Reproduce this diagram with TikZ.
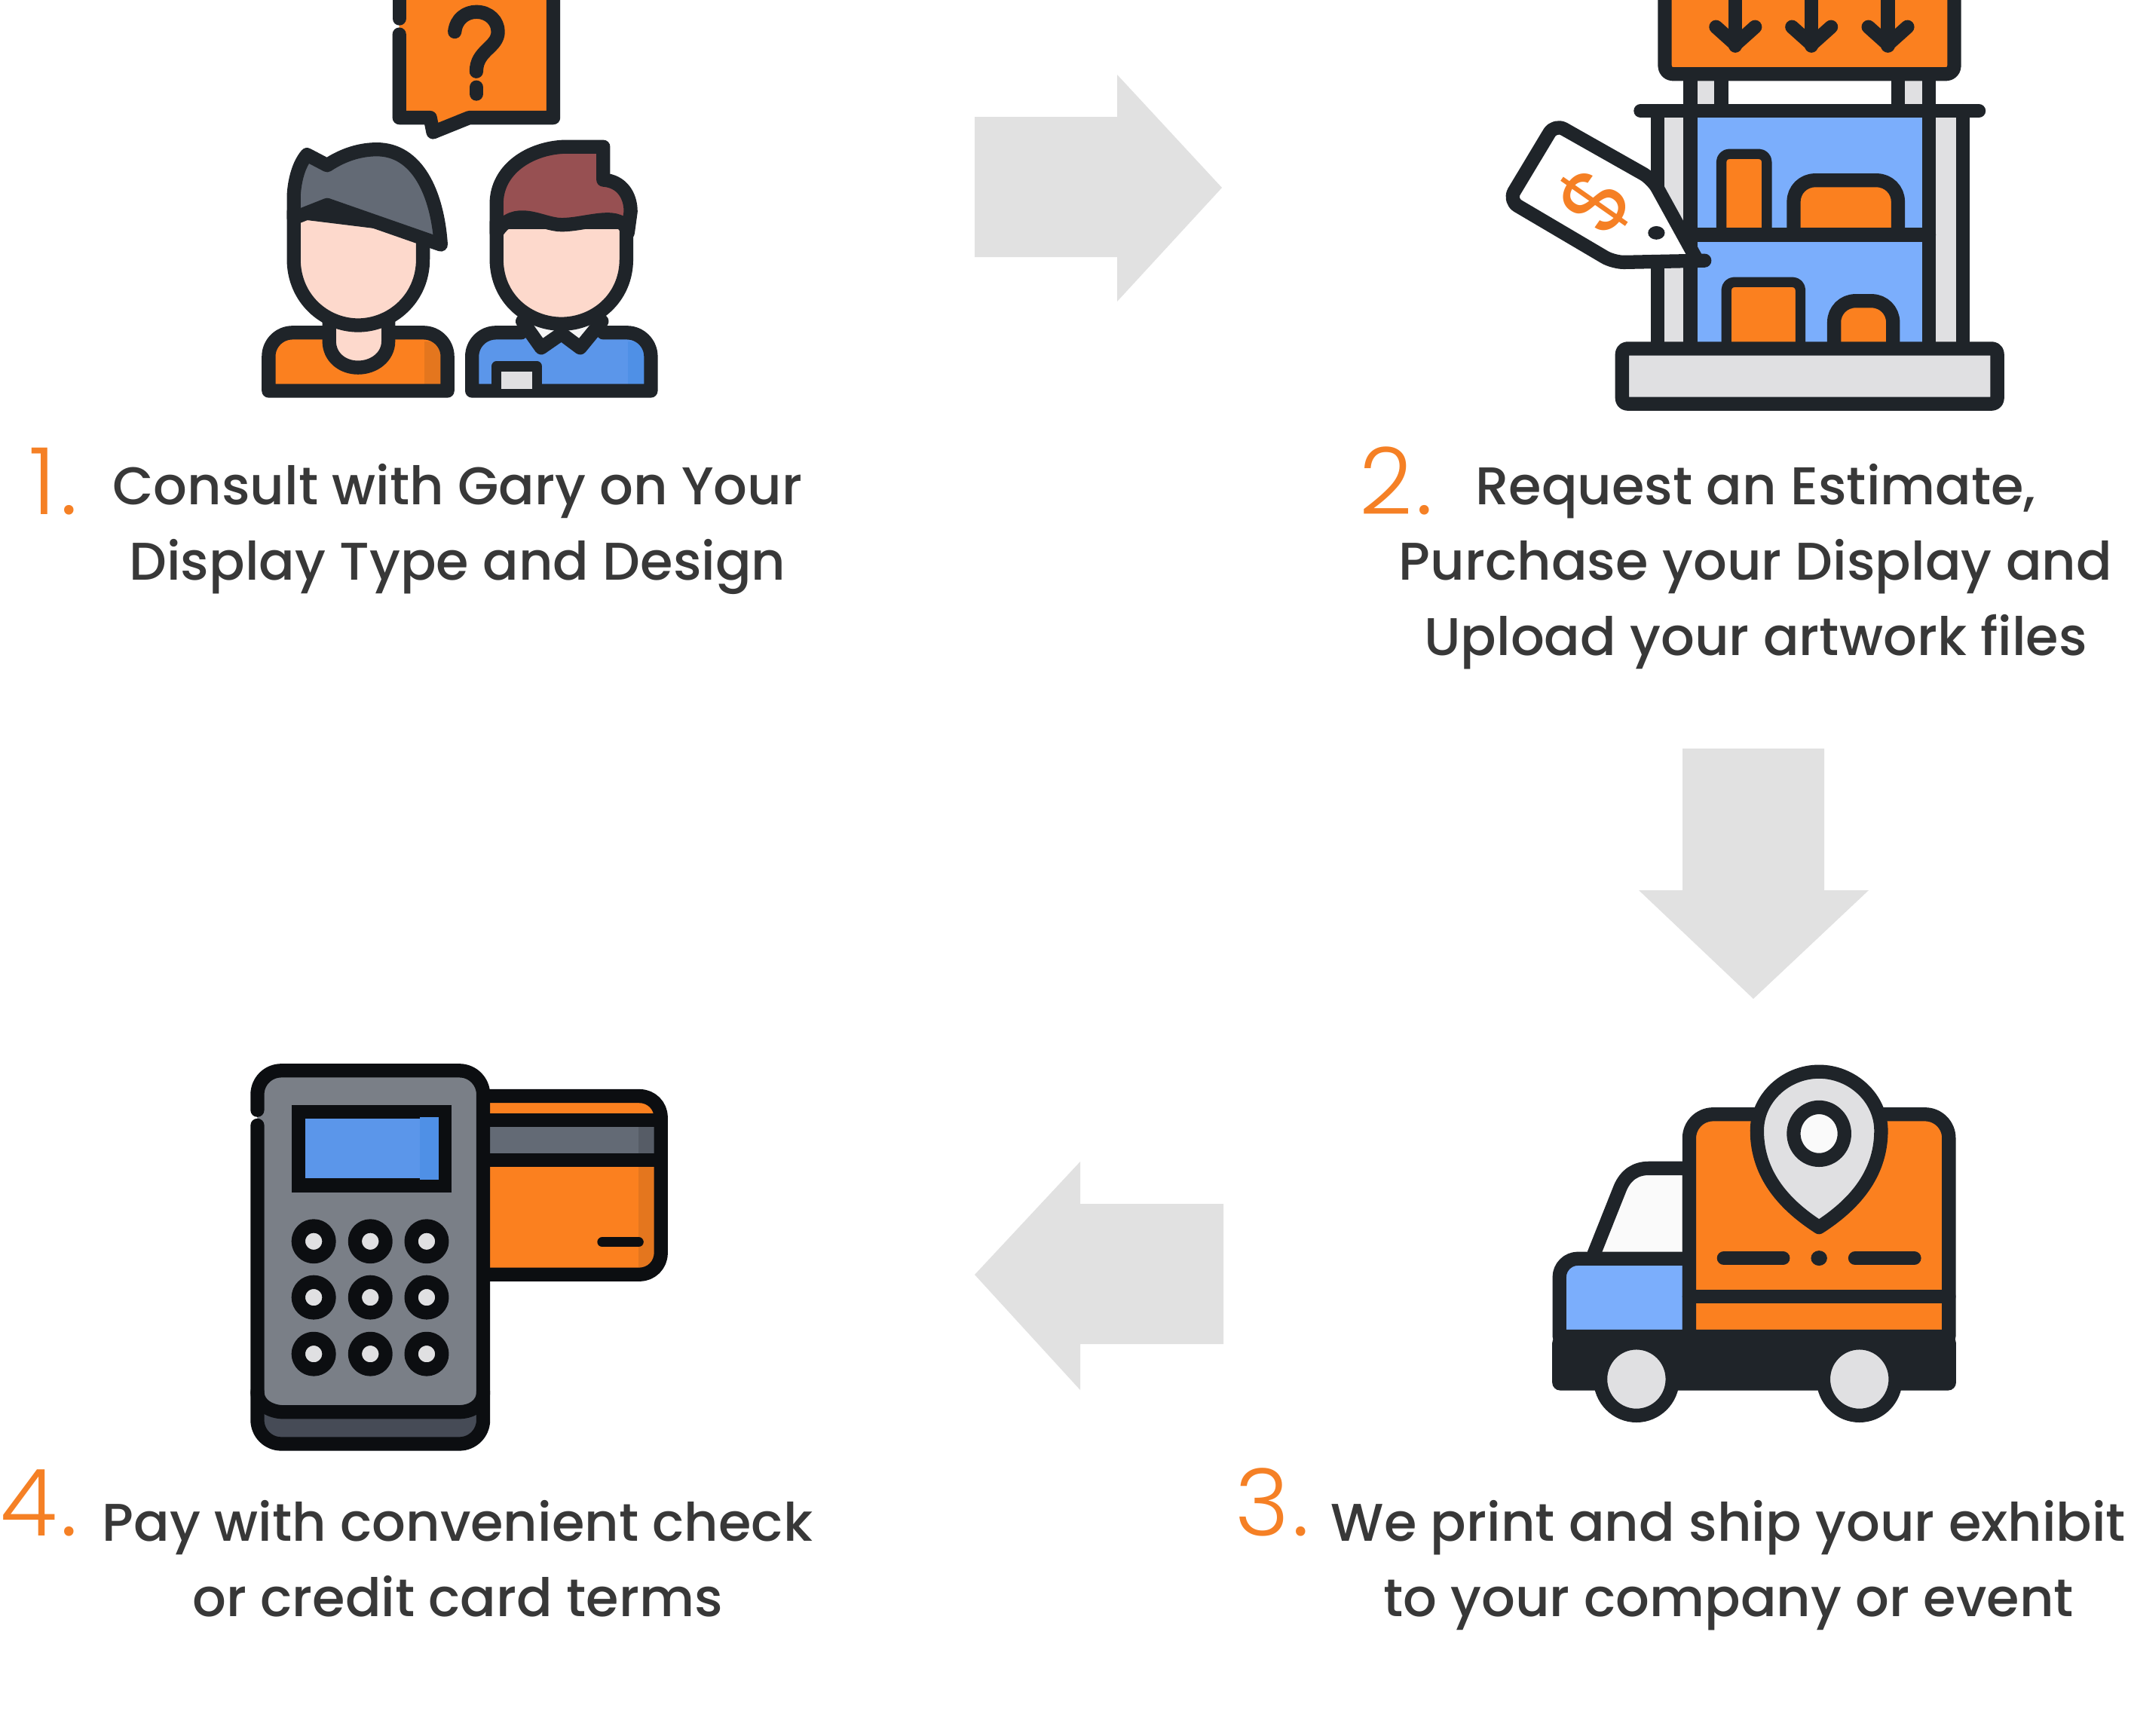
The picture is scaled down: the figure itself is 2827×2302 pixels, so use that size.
\documentclass[tikz,border=0pt]{standalone}
\usepackage{fontspec}
\setmainfont{Poppins Medium}
\newfontfamily\numfont{Poppins Light}
\newfontfamily\tagfont{Poppins}
\definecolor{inkc}{HTML}{1F2429}
\definecolor{inkb}{HTML}{0C0E11}
\definecolor{org}{HTML}{FB801F}
\definecolor{orgd}{HTML}{E4761E}
\definecolor{numorg}{HTML}{F58025}
\definecolor{skin}{HTML}{FDD9CC}
\definecolor{hairg}{HTML}{636A75}
\definecolor{hairgd}{HTML}{565C66}
\definecolor{hairr}{HTML}{975052}
\definecolor{blu}{HTML}{5B96EA}
\definecolor{blud}{HTML}{4F90E6}
\definecolor{lblu}{HTML}{7BAEFC}
\definecolor{lgray}{HTML}{E0E0E2}
\definecolor{arrowc}{HTML}{E1E1E1}
\definecolor{txtc}{HTML}{383838}
\definecolor{term}{HTML}{7A7F87}
\definecolor{termd}{HTML}{464B56}
\tikzset{
  ink/.style={draw=inkc,line width=5.2pt,line join=round,line cap=round},
  thinink/.style={draw=inkc,line width=3.8pt,line join=round,line cap=round},
  inkk/.style={draw=inkb,line width=5.2pt,line join=round,line cap=round},
  blockarrow/.style={fill=arrowc,draw=none},
  stepnum/.style={text=numorg,font=\numfont\fontsize{35}{35}\selectfont,inner sep=0pt,anchor=base west},
  steptext/.style={text=txtc,font=\fontsize{20}{28.45}\selectfont,align=center,inner sep=0pt,anchor=north}
}
\begin{document}
\begin{tikzpicture}[x=0.01cm,y=-0.01cm]
\useasboundingbox (0,0) rectangle (2827,2302);
\fill[white] (0,0) rectangle (2827,2302);
\begin{scope}
\clip (0,0) rectangle (2827,2302);

% ---------- block arrows
\fill[blockarrow] (1293,155) -- (1482,155) -- (1482,99) -- (1621,249) -- (1482,400) -- (1482,341) -- (1293,341) -- cycle;
\fill[blockarrow] (2232,993) -- (2420,993) -- (2420,1181) -- (2479,1181) -- (2326,1325) -- (2174,1181) -- (2232,1181) -- cycle;
\fill[blockarrow] (1623,1597) -- (1433,1597) -- (1433,1541) -- (1293,1691) -- (1433,1844) -- (1433,1783) -- (1623,1783) -- cycle;

% ---------- icon 1: two people and a question
\begin{scope}[shift={(320,0)},xscale=0.3827,yscale=0.3508]
 \fill[org] (548,-60) -- (1082,-60) -- (1082,445) -- (790,445) -- (665,500) -- (655,445) -- (548,445) -- cycle;
 \draw[ink] (548,130) -- (548,445) -- (655,445) -- (665,500) -- (790,445) -- (1082,445) -- (1082,-60);
 \draw[ink] (548,-60) -- (548,70);
 \draw[ink] (740,120) .. controls (745,70) and (780,45) .. (815,45) .. controls (860,45) and (890,80) .. (890,120) .. controls (890,180) and (815,190) .. (815,270);
 \draw[ink] (815,330) -- (815,355);
 % person 1
 \fill[org] (95,1478) [rounded corners=9pt] -- (95,1258) -- (715,1258) [sharp corners] -- (715,1478) -- cycle;
 \fill[orgd] (635,1290) rectangle (697,1478);
 \draw[ink] (300,1258) [rounded corners=9pt] -- (95,1258) [sharp corners] -- (95,1478) -- (715,1478) [rounded corners=9pt] -- (715,1258) [sharp corners] -- (510,1258);
 \draw[ink,fill=skin] (305,1215) -- (305,1290) .. controls (305,1350) and (350,1390) .. (405,1390) .. controls (460,1390) and (510,1350) .. (510,1290) -- (510,1215);
 \draw[ink,fill=skin] (182,800) -- (182,980) .. controls (182,1130) and (290,1230) .. (405,1230) .. controls (520,1230) and (630,1130) .. (630,980) -- (630,860) -- cycle;
 \draw[ink,fill=hairg] (182,825) -- (182,740) .. controls (185,680) and (200,620) .. (228,585) -- (298,625) .. controls (360,580) and (420,565) .. (470,565) .. controls (610,565) and (680,730) .. (692,925) -- (298,775) -- cycle;
 % person 2
 \fill[blu] (800,1478) [rounded corners=9pt] -- (800,1258) -- (1420,1258) [sharp corners] -- (1420,1478) -- cycle;
 \fill[blud] (1340,1290) rectangle (1402,1478);
 \draw[ink] (970,1258) [rounded corners=9pt] -- (800,1258) [sharp corners] -- (800,1478) -- (1420,1478) [rounded corners=9pt] -- (1420,1258) [sharp corners] -- (1255,1258);
 \draw[ink,fill=white!92!gray] (975,1215) -- (1040,1315) -- (1110,1262) -- (1175,1315) -- (1250,1215);
 \draw[ink,fill=skin] (885,840) -- (885,980) .. controls (885,1130) and (995,1225) .. (1110,1225) .. controls (1225,1225) and (1335,1130) .. (1335,980) -- (1335,840) -- cycle;
 \draw[ink,fill=hairr] (885,880) -- (885,770) .. controls (885,640) and (1000,560) .. (1120,555) -- (1255,555) -- (1255,680) .. controls (1320,685) and (1350,740) .. (1350,800) -- (1340,880) .. controls (1320,790) and (1200,850) .. (1110,850) .. controls (1040,850) and (950,770) .. (885,880) -- cycle;
 \draw[thinink,fill=lgray] (885,1470) -- (885,1385) -- (1025,1385) -- (1025,1470);
\end{scope}

% ---------- icon 2: display with price tag
\begin{scope}[shift={(1980,0)},xscale=0.4464,yscale=0.3571]
 \fill[lgray] (590,275) rectangle (680,412);
 \fill[lgray] (1205,275) rectangle (1297,412);
 \draw[ink] (588,275) -- (588,412) (680,275) -- (680,412) (1205,275) -- (1205,412) (1297,275) -- (1297,412);
 \draw[ink,fill=org,rounded corners=3pt] (512,-60) -- (512,275) -- (1372,275) -- (1372,-60);
 \foreach \ax in {722,948,1175} {
   \draw[ink] (\ax,-20) -- (\ax,170);
   \draw[ink] (\ax-58,100) -- (\ax,165) -- (\ax+58,100);
 }
 \fill[lgray] (490,412) rectangle (1398,1290);
 \fill[lblu] (588,412) rectangle (1297,1290);
 \draw[ink] (490,412) -- (490,1290) (588,412) -- (588,1290) (1297,412) -- (1297,1290) (1398,412) -- (1398,1290);
 \draw[ink] (440,412) -- (1445,412);
 \draw[thinink,fill=org,rounded corners=3pt] (680,850) -- (680,572) -- (815,572) -- (815,850);
 \draw[ink,fill=org,rounded corners=8pt] (895,850) -- (895,670) -- (1205,670) -- (1205,850);
 \draw[ink] (588,872) -- (1297,872);
 \draw[thinink,fill=org,rounded corners=3pt] (695,1285) -- (695,1048) -- (915,1048) -- (915,1285);
 \draw[ink,fill=org,rounded corners=8pt] (1015,1285) -- (1015,1118) -- (1190,1118) -- (1190,1285);
 \draw[ink,fill=lgray,rounded corners=2pt] (385,1295) rectangle (1500,1500);
 \fill[white,rounded corners=4pt] (185,460) -- (475,665) -- (600,970) -- (360,970) -- (48,745) -- cycle;
 \draw[ink,rounded corners=4pt] (630,968) -- (360,975) -- (48,745) -- (185,460) -- (475,665) -- (605,960);
 \fill[inkc] (487,865) circle[radius=25];
 \node[rotate=55,text=numorg,inner sep=0pt,font=\tagfont\fontsize{34}{34}\selectfont] (dollar) at (305,745) {\$};
\end{scope}

% ---------- icon 3: truck with pin
\begin{scope}[shift={(2040,1400)},xscale=0.3827,yscale=0.333]
 \fill[inkc,rounded corners=3pt] (50,1115) rectangle (1450,1335);
 \draw[ink,fill=white!96!gray] (195,790) -- (285,530) .. controls (305,475) and (340,450) .. (385,450) -- (525,450) -- (525,810);
 \draw[ink,fill=lblu] (75,1120) [rounded corners=7pt] -- (75,810) [sharp corners] -- (525,810) -- (525,1120) -- cycle;
 \draw[ink,fill=org] (525,1120) [rounded corners=9pt] -- (525,235) -- (1425,235) [sharp corners] -- (1425,1120) -- cycle;
 \draw[ink] (525,960) -- (1425,960);
 \draw[ink,fill=lgray] (975,685) .. controls (860,600) and (760,480) .. (760,300) .. controls (760,170) and (860,65) .. (975,65) .. controls (1090,65) and (1190,170) .. (1190,300) .. controls (1190,480) and (1090,600) .. (975,685) -- cycle;
 \draw[ink,fill=white!96!gray] (975,312) ellipse[x radius=88,y radius=105];
 \draw[ink] (645,808) -- (850,808) (1100,808) -- (1305,808);
 \fill[inkc] (975,808) ellipse[x radius=28,y radius=30];
 \draw[ink,fill=lgray] (342,1290) ellipse[x radius=125,y radius=145];
 \draw[ink,fill=lgray] (1115,1290) ellipse[x radius=125,y radius=145];
\end{scope}

% ---------- icon 4: card terminal
\begin{scope}[shift={(320,1400)},xscale=0.3699,yscale=0.3380]
 \fill[org] (800,160) [rounded corners=8pt] -- (1505,160) -- (1505,860) [sharp corners] -- (800,860) -- cycle;
 \fill[hairg] (868,255) rectangle (1495,412);
 \fill[hairgd] (1425,255) rectangle (1495,412);
 \fill[orgd] (1425,430) rectangle (1485,840);
 \draw[inkk] (868,160) [rounded corners=8pt] -- (1505,160) -- (1505,860) [sharp corners] -- (868,860);
 \draw[inkk] (868,255) -- (1505,255) (868,412) -- (1505,412);
 \draw[inkk,line width=3.8pt] (1295,733) -- (1425,733);
 \fill[termd,rounded corners=6pt] (58,1300) rectangle (868,1525);
 \fill[term] (58,1340) [rounded corners=9pt] -- (58,60) -- (868,60) [sharp corners] -- (868,1320) .. controls (868,1375) and (825,1400) .. (780,1400) -- (150,1400) .. controls (110,1400) and (58,1375) .. (58,1320) -- cycle;
 \draw[inkk] (58,215) [rounded corners=9pt] -- (58,60) -- (868,60) -- (868,1525) -- (58,1525) -- (58,275);
 \draw[inkk] (58,1320) .. controls (58,1375) and (110,1400) .. (150,1400) -- (780,1400) .. controls (825,1400) and (868,1375) .. (868,1320);
 \draw[inkk,fill=blu,line join=miter] (205,222) rectangle (730,510);
 \fill[blud] (640,244) rectangle (708,488);
 \foreach \bx in {260,463,665} \foreach \by in {730,950,1172} {
   \draw[inkk,fill=lgray] (\bx,\by) ellipse[x radius=55,y radius=60];
 }
\end{scope}
\end{scope}

% ---------- step numbers and captions
\node[stepnum] (n1) at (38,682) {1\kern1.8pt.};
\node[steptext] (t1) at (607,615) {Consult with Gary on Your\\Display Type and Design};
\node[stepnum] (n2) at (1803,682) {2\kern1.2pt.};
\node[steptext] (t2) at (2329,615) {Request an Estimate,\\Purchase your Display and\\Upload your artwork files};
\node[stepnum] (n3) at (1638,2037) {3\kern1.2pt.};
\node[steptext] (t3) at (2293,1990) {We print and ship your exhibit\\to your company or event};
\node[stepnum] (n4) at (0,2037) {4\kern1.2pt.};
\node[steptext] (t4) at (607,1990) {Pay with convenient check\\or credit card terms};
\end{tikzpicture}
\end{document}
